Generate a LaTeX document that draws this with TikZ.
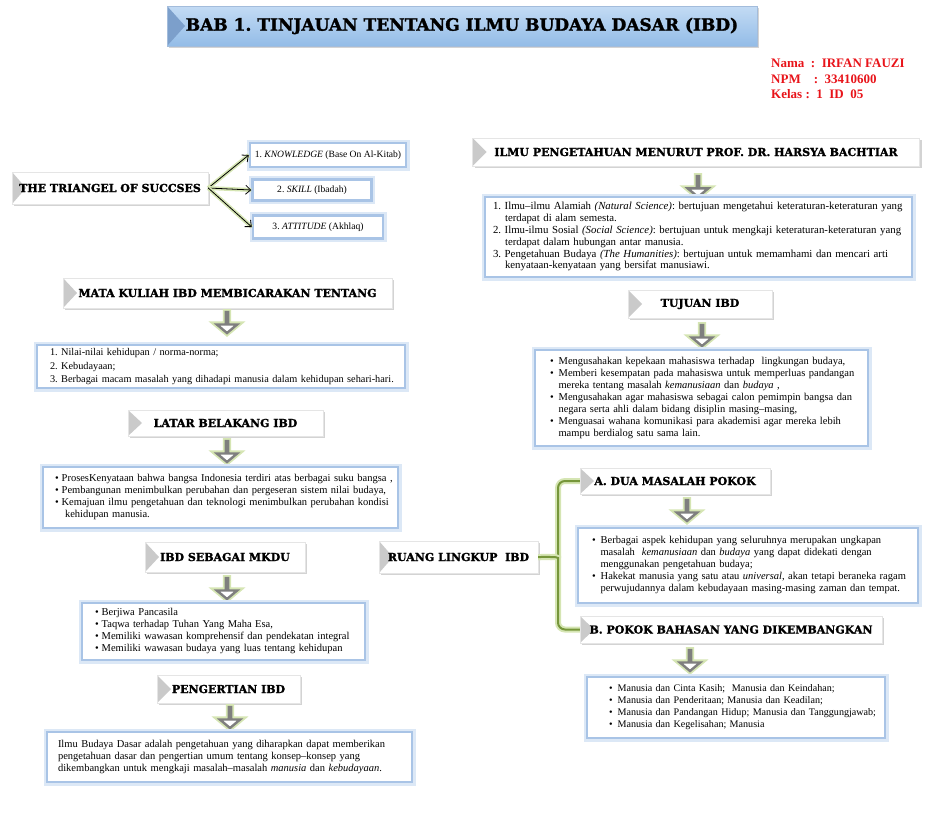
\documentclass[tikz,border=0pt]{standalone}
\usepackage{fontspec}
\setmainfont{Liberation Serif}
\newfontfamily\hdfont[BoldFeatures={FakeBold=1.6}]{DejaVu Serif}
\usetikzlibrary{arrows.meta,positioning,shapes.arrows,shadows,calc}
\definecolor{titletop}{HTML}{C3DBF4}
\definecolor{titlebot}{HTML}{93BCE7}
\definecolor{titledark}{HTML}{7C9FCB}
\definecolor{boxblue}{HTML}{A9C4E6}
\definecolor{glowblue}{HTML}{DCE8F6}
\definecolor{glowgreen}{HTML}{D5E5B3}
\definecolor{arrgray}{HTML}{7F7F7F}
\definecolor{bevel}{HTML}{CACACA}
\definecolor{bracegreen}{HTML}{76963A}
\definecolor{namered}{HTML}{E8141A}
\newcommand{\rows}[1]{\noindent\begin{tabular}{@{}l@{}}#1\end{tabular}}
\newcommand{\bul}[1][5pt]{\textbullet\hspace{#1}}
\frenchspacing

\begin{document}
\begin{tikzpicture}[x=1pt,y=-1pt,
  hd/.style={fill=white,draw=black!10,inner sep=0pt,
    drop shadow={shadow xshift=2pt,shadow yshift=-2pt,opacity=0.35},
    font=\hdfont\bfseries\fontsize{11}{13}\selectfont,
    path picture={\fill[bevel] (path picture bounding box.north west) -- (path picture bounding box.south west)
      -- ($(path picture bounding box.west)+(14,0)$) -- cycle;}},
  ttl/.style={top color=titletop,bottom color=titlebot,draw=titledark!70,inner sep=0pt,
    drop shadow={shadow xshift=2pt,shadow yshift=-2pt,opacity=0.35},
    font=\hdfont\bfseries\fontsize{17}{19}\selectfont,
    path picture={\fill[titledark] (path picture bounding box.north west) -- (path picture bounding box.south west)
      -- ($(path picture bounding box.west)+(18,0)$) -- cycle;}},
  box/.style={fill=white,draw=boxblue,line width=2.5pt,preaction={draw=glowblue,line width=7pt},
    inner sep=0pt,align=left,font=\fontsize{10.5}{12}\selectfont},
  item/.style={box,align=center,font=\fontsize{9.6}{11}\selectfont},
  darr/.style={single arrow,shape border rotate=270,draw=arrgray,line width=2.4pt,fill=white,
    minimum height=21,minimum width=13,single arrow head extend=9,single arrow tip angle=100,
    inner sep=0pt,preaction={draw=glowgreen,line width=6pt}},
  tarr/.style={-{Straight Barb[length=5pt,width=9pt]},line width=0.8pt,
    preaction={draw=glowgreen,line width=4pt,-}},
  brace/.style={draw=bracegreen,line width=2pt,rounded corners=7pt,
    preaction={draw=glowgreen,line width=6pt}},
  nama/.style={text=namered,font=\bfseries\fontsize{13}{15.5}\selectfont,align=left,inner sep=0pt}]
\useasboundingbox (0,0) rectangle (928,817);
% judul
\node[ttl,minimum width=590,minimum height=40] (title) at (462,26) {BAB 1. TINJAUAN TENTANG ILMU BUDAYA DASAR (IBD)};
\node[nama,anchor=north west] (nama) at (771,59) {Nama\ \ :\ \ IRFAN FAUZI\\NPM\ \ \ \ :\ \ 33410600\\Kelas\ :\ \ 1\ \ ID\ \ 05};
% triangel
\node[hd,minimum width=196,minimum height=32] (tri) at (110,188) {THE TRIANGEL OF SUCCSES};
\node[item,minimum width=156,minimum height=24] (kn) at (328,155) {1. \textit{KNOWLEDGE} (Base On Al-Kitab)};
\node[item,minimum width=119,minimum height=21] (sk) at (312,190) {2. \textit{SKILL} (Ibadah)};
\node[item,minimum width=130,minimum height=23] (att) at (318,227) {3. \textit{ATTITUDE} (Akhlaq)};
\foreach \n in {kn,sk,att}
  \draw[tarr] (tri.east) -- (\n.west);
% ilmu pengetahuan
\node[hd,minimum width=447,minimum height=28] (ipm) at (696,152) {ILMU PENGETAHUAN MENURUT PROF. DR. HARSYA BACHTIAR};
\node[darr] (d1) at (698,186) {};
\node[box,minimum width=427,minimum height=80,text width=411,font=\fontsize{10.8}{11.8}\selectfont] (ipmb) at (698.5,237) {\rows{%
  1. Ilmu--ilmu Alamiah \textit{(Natural Science)}: bertujuan mengetahui keteraturan-keteraturan yang\\
  \hspace*{12pt}terdapat di alam semesta.\\
  2. Ilmu-ilmu Sosial \textit{(Social Science)}: bertujuan untuk mengkaji keteraturan-keteraturan yang\\
  \hspace*{12pt}terdapat dalam hubungan antar manusia.\\
  3. Pengetahuan Budaya \textit{(The Humanities)}: bertujuan untuk memamhami dan mencari arti\\
  \hspace*{12pt}kenyataan-kenyataan yang bersifat manusiawi.}};
% mata kuliah
\node[hd,minimum width=329,minimum height=30] (mk) at (227.5,293) {MATA KULIAH IBD MEMBICARAKAN TENTANG};
\node[darr] (d2) at (227,322) {};
\node[box,minimum width=368,minimum height=43,text width=342,font=\fontsize{10.3}{13.2}\selectfont] (mkb) at (221,366.5) {\rows{%
  1. Nilai-nilai kehidupan / norma-norma;\\
  2. Kebudayaan;\\
  3. Berbagai macam masalah yang dihadapi manusia dalam kehidupan sehari-hari.}};
% tujuan
\node[hd,minimum width=144,minimum height=28] (tj) at (700,304) {TUJUAN IBD};
\node[darr] (d3) at (702,335) {};
\node[box,minimum width=333,minimum height=96,text width=303] (tjb) at (701.5,398) {\rows{%
  \bul Mengusahakan kepekaan mahasiswa terhadap\ \ lingkungan budaya,\\
  \bul Memberi kesempatan pada mahasiswa untuk memperluas pandangan\\
  \hspace*{8.5pt}mereka tentang masalah \textit{kemanusiaan} dan \textit{budaya} ,\\
  \bul Mengusahakan agar mahasiswa sebagai calon pemimpin bangsa dan\\
  \hspace*{8.5pt}negara serta ahli dalam bidang disiplin masing--masing,\\
  \bul Menguasai wahana komunikasi para akademisi agar mereka lebih\\
  \hspace*{8.5pt}mampu berdialog satu sama lain.}};
% latar belakang
\node[hd,minimum width=195,minimum height=26] (lb) at (225.5,423) {LATAR BELAKANG IBD};
\node[darr] (d4) at (227,451) {};
\node[box,minimum width=355,minimum height=61,text width=331] (lbb) at (220.5,497.5) {\rows{%
  \bul[3pt]ProsesKenyataan bahwa bangsa Indonesia terdiri atas berbagai suku bangsa ,\\
  \bul[3pt]Pembangunan menimbulkan perubahan dan pergeseran sistem nilai budaya,\\
  \bul[3pt]Kemajuan ilmu pengetahuan dan teknologi menimbulkan perubahan kondisi\\
  \hspace*{10pt}kehidupan manusia.}};
% ruang lingkup
\node[hd,minimum width=159,minimum height=32] (rl) at (458.5,557) {RUANG LINGKUP\ \ IBD};
\node[hd,minimum width=190,minimum height=26] (ahd) at (675,481) {A. DUA MASALAH POKOK};
\node[darr] (d5) at (687,510) {};
\node[box,minimum width=340,minimum height=75,text width=312] (ab) at (748,565.5) {\rows{%
  \bul Berbagai aspek kehidupan yang seluruhnya merupakan ungkapan\\
  \hspace*{8.5pt}masalah\ \ \textit{kemanusiaan} dan \textit{budaya} yang dapat didekati dengan\\
  \hspace*{8.5pt}menggunakan pengetahuan budaya;\\
  \bul Hakekat manusia yang satu atau \textit{universal}, akan tetapi beraneka ragam\\
  \hspace*{8.5pt}perwujudannya dalam kebudayaan masing-masing zaman dan tempat.}};
\node[hd,minimum width=302,minimum height=27] (bhd) at (731,629.5) {B. POKOK BAHASAN YANG DIKEMBANGKAN};
\node[darr] (d6) at (690,660) {};
\node[box,minimum width=298,minimum height=61,text width=254,font=\fontsize{10.1}{12}\selectfont] (bb) at (736,707.5) {\rows{%
  \bul Manusia dan Cinta Kasih;\ \ Manusia dan Keindahan;\\
  \bul Manusia dan Penderitaan; Manusia dan Keadilan;\\
  \bul Manusia dan Pandangan Hidup; Manusia dan Tanggungjawab;\\
  \bul Manusia dan Kegelisahan; Manusia}};
\draw[brace] (ahd.west) -| (558,549) to[out=270,in=0] (rl.east);
\draw[brace] (bhd.west) -| (558,565) to[out=90,in=0] (rl.east);
% mkdu
\node[hd,minimum width=160,minimum height=30] (md) at (225,557) {IBD SEBAGAI MKDU};
\node[darr] (d7) at (227,588) {};
\node[box,minimum width=283,minimum height=57,text width=257] (mdb) at (223.5,631.5) {\rows{%
  \bul[3pt]Berjiwa Pancasila\\
  \bul[3pt]Taqwa terhadap Tuhan Yang Maha Esa,\\
  \bul[3pt]Memiliki wawasan komprehensif dan pendekatan integral\\
  \bul[3pt]Memiliki wawasan budaya yang luas tentang kehidupan}};
% pengertian
\node[hd,minimum width=143,minimum height=28] (pg) at (228.5,689) {PENGERTIAN IBD};
\node[darr] (d8) at (230,717) {};
\node[box,minimum width=365,minimum height=50,text width=343] (pgb) at (229.5,757) {\rows{%
  Ilmu Budaya Dasar adalah pengetahuan yang diharapkan dapat memberikan\\
  pengetahuan dasar dan pengertian umum tentang konsep--konsep yang\\
  dikembangkan untuk mengkaji masalah--masalah \textit{manusia} dan \textit{kebudayaan}.}};
\end{tikzpicture}
\end{document}
